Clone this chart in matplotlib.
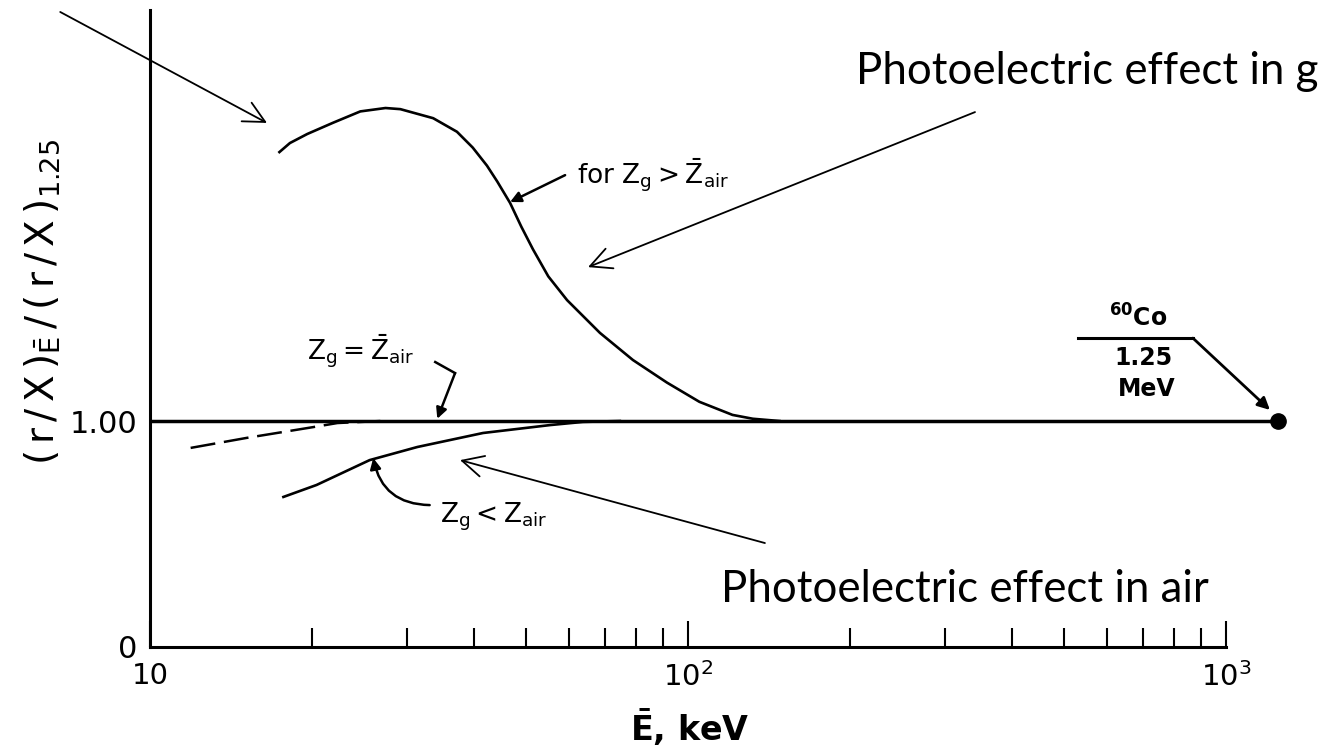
import numpy as np
import matplotlib
matplotlib.use("Agg")
import matplotlib.pyplot as plt
from matplotlib.ticker import LogLocator, NullFormatter, FixedLocator, FixedFormatter

# mean photon energy (keV) and ratio (r/X)_E / (r/X)_1.25
e_high = [17.4, 18.2, 19.6, 21.9, 24.6, 27.4, 29.2, 33.6, 37.2, 39.8, 42.3,
          44.2, 46.7, 49.0, 51.5, 55.0, 59.6, 68.6, 79.0, 91.4, 105, 121, 132, 148]
r_high = [2.19, 2.23, 2.27, 2.32, 2.37, 2.385, 2.38, 2.34, 2.28, 2.21, 2.13,
          2.06, 1.965, 1.86, 1.76, 1.64, 1.535, 1.39, 1.27, 1.17, 1.085, 1.027, 1.01, 1.0]

e_low = [17.7, 20.4, 25.6, 31.4, 41.6, 55.4, 63.8, 74.7]
r_low = [0.664, 0.717, 0.827, 0.885, 0.947, 0.982, 0.996, 1.0]

e_dash = [11.9, 15.1, 20.1, 22.3, 26.8]
r_dash = [0.881, 0.925, 0.973, 0.991, 1.0]

e_ref = [10, 1250]
r_ref = [1.0, 1.0]

e_co = [1250]
r_co = [1.0]

x_major = [10, 100, 1000]
x_major_labels = ['10', r'$\mathregular{10^2}$', r'$\mathregular{10^3}$']
y_ticks = [0, 1.0]
y_tick_labels = ['0', '1.00']

plt.rcParams['mathtext.fontset'] = 'dejavusans'

fig = plt.figure(figsize=(13.3, 7.49), dpi=100)
ax = fig.add_axes([150/1330, 102/749, 1180/1330, 647/749])

ax.plot(e_ref, r_ref, color='black', lw=2.5, solid_capstyle='butt')
ax.plot(e_high, r_high, color='black', lw=1.9)
ax.plot(e_low, r_low, color='black', lw=1.9)
ax.plot(e_dash, r_dash, color='black', lw=1.8, dashes=(10, 3.5))
ax.plot(e_co, r_co, 'o', color='black', markersize=11, clip_on=False)

ax.set_xscale('log')
ax.set_xlim(10, 1561)
ax.set_ylim(0, 2.863)

for s in ['top', 'right']:
    ax.spines[s].set_visible(False)
ax.spines['bottom'].set_bounds(10, 1000)
ax.spines['left'].set_bounds(0, 2.82)
ax.spines['bottom'].set_linewidth(2.2)
ax.spines['left'].set_linewidth(2.2)

ax.xaxis.set_major_locator(FixedLocator(x_major))
ax.xaxis.set_major_formatter(FixedFormatter(x_major_labels))
ax.xaxis.set_minor_locator(LogLocator(base=10, subs=np.arange(2, 10)))
ax.xaxis.set_minor_formatter(NullFormatter())
ax.tick_params(axis='x', which='major', direction='in', length=19, width=1.5,
               labelsize=21, pad=11)
ax.tick_params(axis='x', which='minor', direction='in', length=14, width=1.5)
ax.set_yticks(y_ticks, y_tick_labels)
ax.tick_params(axis='y', length=0, labelsize=22, pad=9)

ax.set_xlabel(r'$\mathregular{\bar{E}}$, keV', fontsize=24, fontweight='bold')
ax.xaxis.set_label_coords(0.4576, -0.1236)
ax.xaxis.label.set_va('center')
ax.set_ylabel(r'$\mathregular{(\,r\,/\,X\,)_{\bar{E}}\,/\,(\,r\,/\,X\,)_{1.25}}$', fontsize=28)
ax.yaxis.set_label_coords(-0.0915, 0.533)
ax.yaxis.label.set_va('center')

# curve labels
small = 19
ax.text(62.2, 2.053, r'for $\mathregular{Z_g > \bar{Z}_{air}}$', fontsize=small, va='baseline')
ax.annotate('', xy=(46.7, 1.969), xytext=(59.1, 2.088),
            arrowprops=dict(arrowstyle='-|>', lw=1.8, color='black', mutation_scale=16,
                            shrinkA=0, shrinkB=0))

ax.text(19.6, 1.27, r'$\mathregular{Z_g = \bar{Z}_{air}}$', fontsize=small, va='baseline')
ax.plot([33.9, 36.9], [1.261, 1.212], color='black', lw=1.8)
ax.annotate('', xy=(34.2, 1.01), xytext=(36.9, 1.212),
            arrowprops=dict(arrowstyle='-|>', lw=1.8, color='black', mutation_scale=16,
                            shrinkA=0, shrinkB=0))

ax.text(34.6, 0.549, r'$\mathregular{Z_g < Z_{air}}$', fontsize=small, va='baseline')
ax.annotate('', xy=(26.0, 0.836), xytext=(33.1, 0.628),
            arrowprops=dict(arrowstyle='-|>', lw=1.8, color='black', mutation_scale=16,
                            shrinkA=0, shrinkB=0, connectionstyle='arc3,rad=-0.4'))

ax.text(686, 1.456, r'$\mathregular{^{60}Co}$', fontsize=17, ha='center', va='center',
        fontweight='bold')
ax.text(701, 1.279, '1.25', fontsize=17, ha='center', va='center', fontweight='bold')
ax.text(713, 1.142, 'MeV', fontsize=17, ha='center', va='center', fontweight='bold')
ax.plot([531, 868], [1.367, 1.367], color='black', lw=2.2)
ax.annotate('', xy=(1207, 1.049), xytext=(868, 1.367),
            arrowprops=dict(arrowstyle='-|>', lw=2.0, color='black', mutation_scale=18,
                            shrinkA=0, shrinkB=0))

# slide annotations
big = dict(fontsize=31.5, family='Lato')
ax.text(205, 2.491, 'Photoelectric effect in g', va='baseline', **big)
ax.text(115.2, 0.199, 'Photoelectric effect in air', va='baseline', **big)
thin = dict(arrowstyle='->', lw=1.3, color='black', mutation_scale=38, shrinkA=0, shrinkB=0)
ax.annotate('', xy=(16.5, 2.319), xytext=(6.81, 2.81), arrowprops=thin, annotation_clip=False)
ax.annotate('', xy=(65.2, 1.681), xytext=(341.6, 2.367), arrowprops=thin)
ax.annotate('', xy=(37.7, 0.827), xytext=(139.0, 0.460), arrowprops=thin)

fig.savefig('out.png', dpi=100)
